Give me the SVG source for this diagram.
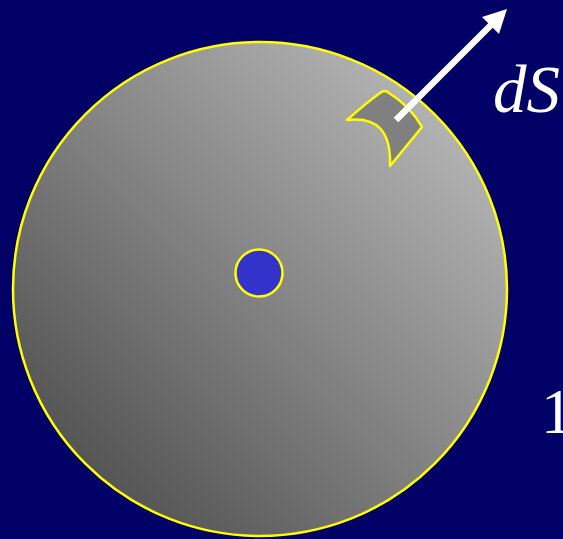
<svg xmlns="http://www.w3.org/2000/svg" width="563" height="539" viewBox="0 0 563 539">
<style>
.yl{stroke:#ffff00;stroke-width:2.5;stroke-linejoin:round;stroke-linecap:round}
.lbl{font-family:"Liberation Serif","Times New Roman",serif;fill:#ffffff}
</style>
<defs>
<linearGradient id="g" gradientUnits="userSpaceOnUse" x1="85" y1="464" x2="435" y2="114">
<stop offset="0" stop-color="#555555"/>
<stop offset="1" stop-color="#b2b2b2"/>
</linearGradient>
</defs>
<rect width="563" height="539" fill="#000066"/>
<g id="sphere">
<circle cx="260" cy="289" r="247" fill="url(#g)" class="yl" stroke-width="3"/>
</g>
<g id="charge">
<circle cx="259" cy="273" r="23.5" fill="#3333cc" class="yl" stroke-width="3"/>
</g>
<g id="patch">
<path d="M347,120 Q365,104 380,93 Q385,89 389,93 Q410,106 422,127 L390,166 Q392,114 347,120 Z" fill="#808080" class="yl"/>
</g>
<g id="connectors">
<line x1="396" y1="120" x2="492" y2="24" stroke="#ffffff" stroke-width="6.5"/>
<polygon points="507,9 482,17 499,34" fill="#ffffff"/>
</g>
<g id="labels">
<text class="lbl" x="493" y="112" font-size="67" font-style="italic">dS</text>
<text class="lbl" x="541" y="433" font-size="64">1</text>
</g>
</svg>
